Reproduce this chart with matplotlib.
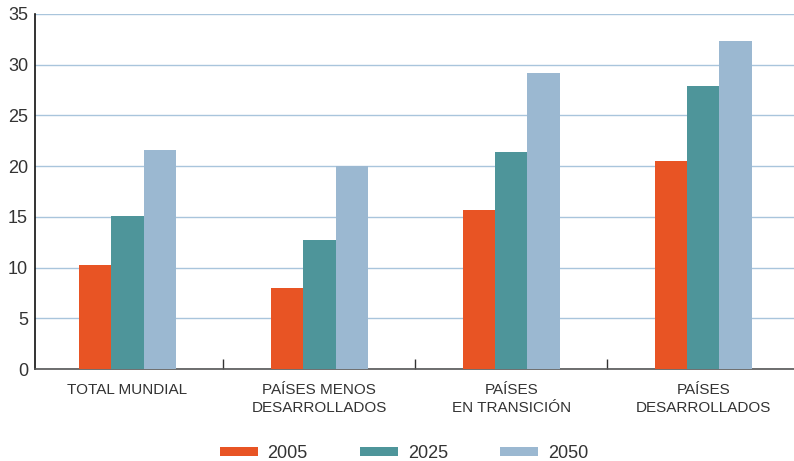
"""Grouped bar chart: three scenario years per region group."""

import matplotlib
matplotlib.use("Agg")
import matplotlib.pyplot as plt
from matplotlib.patches import Patch
import numpy as np

categories = [
    "TOTAL MUNDIAL",
    "PAÍSES MENOS\nDESARROLLADOS",
    "PAÍSES\nEN TRANSICIÓN",
    "PAÍSES\nDESARROLLADOS",
]
years = ["2005", "2025", "2050"]
values_2005 = [10.3, 8.0, 15.7, 20.5]
values_2025 = [15.1, 12.7, 21.4, 27.9]
values_2050 = [21.6, 20.0, 29.2, 32.3]
y_ticks = [0, 5, 10, 15, 20, 25, 30, 35]

colors = ["#E85424", "#4E959A", "#9BB8D1"]
text_color = "#333333"

plt.rcParams["font.family"] = ["Liberation Sans", "DejaVu Sans"]

fig = plt.figure(figsize=(7.94, 4.61), dpi=100)
ax = fig.add_axes([35 / 794, 1 - 369 / 461, 1 - 35 / 794, (369 - 14) / 461])

x = np.arange(len(categories))
width = 0.168
series = [values_2005, values_2025, values_2050]
for i, (vals, col) in enumerate(zip(series, colors)):
    ax.bar(x + (i - 1) * width, vals, width=width, color=col, zorder=3, linewidth=0)

ax.set_ylim(0, 35)
ax.set_xlim(-0.482, 3.473)
ax.set_yticks(y_ticks)
ax.yaxis.grid(True, color="#A9C5DC", linewidth=1.0, zorder=0)
ax.set_axisbelow(True)
ax.tick_params(axis="y", length=0, labelsize=13, colors=text_color, pad=5)

# tick marks between groups, category labels at group centers
ax.set_xticks([0.5, 1.5, 2.5])
ax.set_xticklabels([])
ax.tick_params(axis="x", which="major", direction="in", length=7, width=1, color="#333333")
ax.set_xticks(x, minor=True)
ax.set_xticklabels(categories, minor=True, fontsize=11, color=text_color, linespacing=1.4)
ax.tick_params(axis="x", which="minor", length=0, pad=10)

for side in ["top", "right"]:
    ax.spines[side].set_visible(False)
ax.spines["left"].set_color("#111111")
ax.spines["left"].set_linewidth(1.2)
ax.spines["bottom"].set_color("#555555")
ax.spines["bottom"].set_linewidth(1.2)

handles = [Patch(facecolor=c, edgecolor="none") for c in colors]
fig.legend(
    handles, years, loc="center", bbox_to_anchor=(0.509, 0.017), ncol=3,
    frameon=False, fontsize=13, handlelength=2.1, handleheight=0.4,
    columnspacing=2.9, handletextpad=0.55, labelcolor=text_color,
    borderpad=0, borderaxespad=0,
)

fig.savefig("out.png", dpi=100)
